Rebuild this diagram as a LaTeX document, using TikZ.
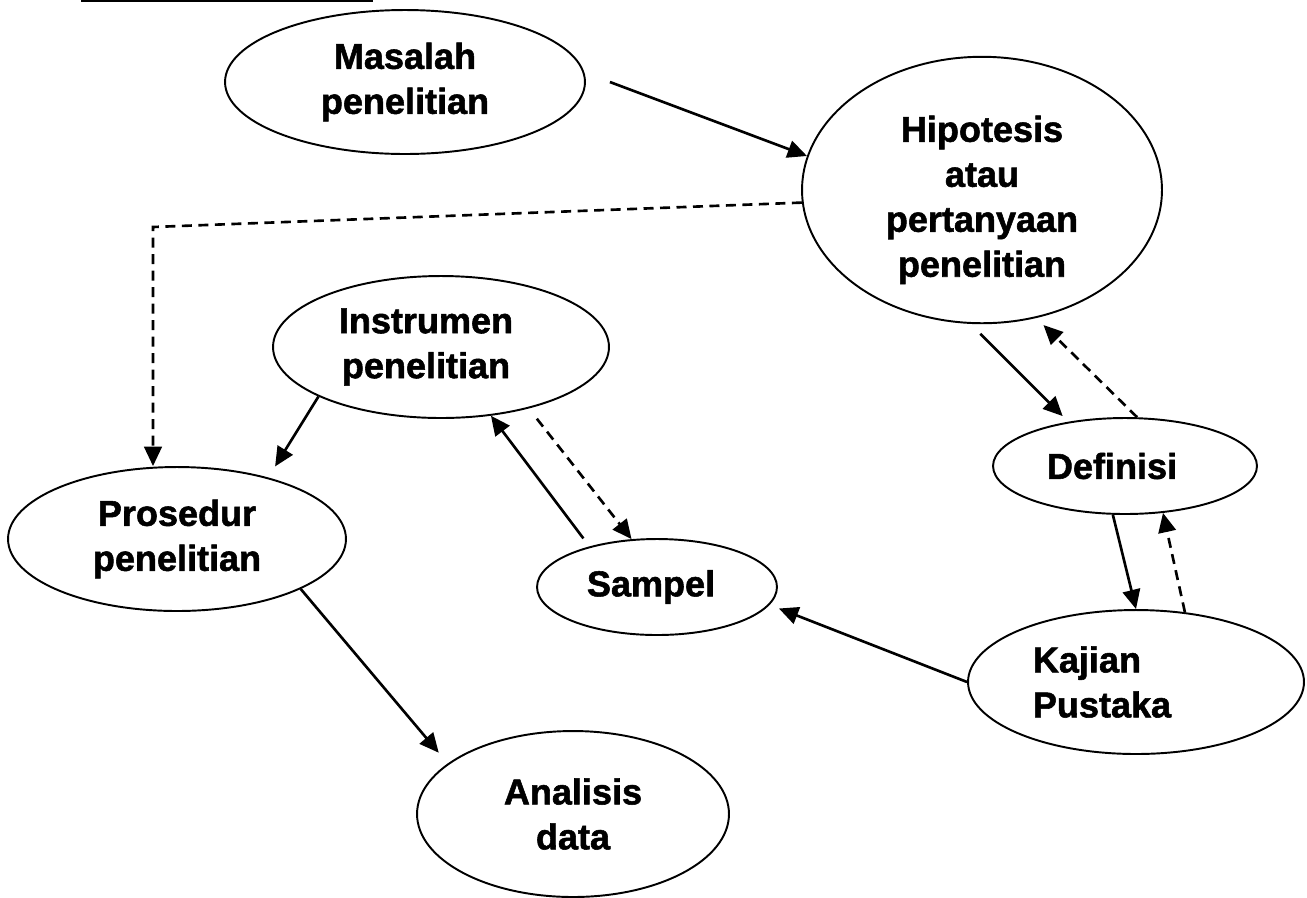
\documentclass[tikz,border=0pt]{standalone}
\usepackage{fontspec}
\setmainfont{Liberation Sans}[BoldFeatures={FakeBold=1.5}]
\usetikzlibrary{arrows.meta, shapes.geometric}

\begin{document}
\begin{tikzpicture}[
    x=0.02cm, y=-0.02cm,
    bubble/.style={ellipse, draw=black, line width=1.1pt, inner sep=0pt, align=center,
        font=\fontsize{20.5}{25.6}\selectfont\bfseries},
    link/.style={line width=1.5pt, -{Triangle[length=11pt, width=10pt]}},
    hint/.style={link, dash pattern=on 0.2cm off 0.13cm}
]
   \useasboundingbox (0,0) rectangle (1307,897);

   % rule left over from the title
   \draw[line width=1.2pt] (81,1) -- (373,1);

   % Ellipses
   \node[bubble, minimum width=7.2cm, minimum height=2.88cm] (masalah) at (405,82) {Masalah\\penelitian};
   \node[bubble, minimum width=7.2cm, minimum height=5.28cm] (hipo) at (982,190) {\rule{0pt}{0.92cm}Hipotesis\\atau\\pertanyaan\\penelitian};
   \node[bubble, minimum width=6.72cm, minimum height=2.84cm] (instrumen) at (441,347) {Instrumen\hspace*{0.6cm}\\penelitian\hspace*{0.6cm}};
   \node[bubble, minimum width=6.76cm, minimum height=2.88cm] (prosedur) at (177,539) {Prosedur\\penelitian};
   \node[bubble, minimum width=5.28cm, minimum height=1.92cm] (definisi) at (1125,466) {Definisi\hspace*{0.52cm}};
   \node[bubble, minimum width=4.8cm, minimum height=1.92cm] (sampel) at (657,587) {Sampel\hspace*{0.24cm}};
   \node[bubble, minimum width=6.72cm, minimum height=2.88cm, align=left] (kajian) at (1136,682) {Kajian\\Pustaka\hspace*{1.36cm}};
   \node[bubble, minimum width=6.24cm, minimum height=3.32cm] (analisis) at (573,814) {Analisis\\data};

   % Connectors
   \coordinate (corner) at (153,227);
   \draw[link] ([shift={(24,0)}]masalah.east) -- (hipo.169);
   \draw[hint] (hipo.184) -- (corner) -- (corner |- prosedur.north);
   \draw[link, shorten >=0.26cm] (instrumen.202) -- (prosedur.34);
   \draw[link, shorten >=0.28cm] (prosedur.-22) -- (analisis.158);
   \draw[link, shorten <=0.2cm] (sampel.149) -- (instrumen.-54);
   \draw[hint, shorten <=0.26cm] (instrumen.-35) -- (sampel.118);
   \draw[link, shorten >=0.2cm] (kajian.west) -- (sampel.-9);
   \draw[link, shorten <=0.28cm, shorten >=0.16cm] (hipo.-95) -- (definisi.142);
   \draw[hint, shorten >=0.2cm] (definisi.76) -- (hipo.-67);
   \draw[link] (definisi.-104) -- (kajian.north);
   \draw[hint] (kajian.55) -- (definisi.-51);

\end{tikzpicture}
\end{document}
